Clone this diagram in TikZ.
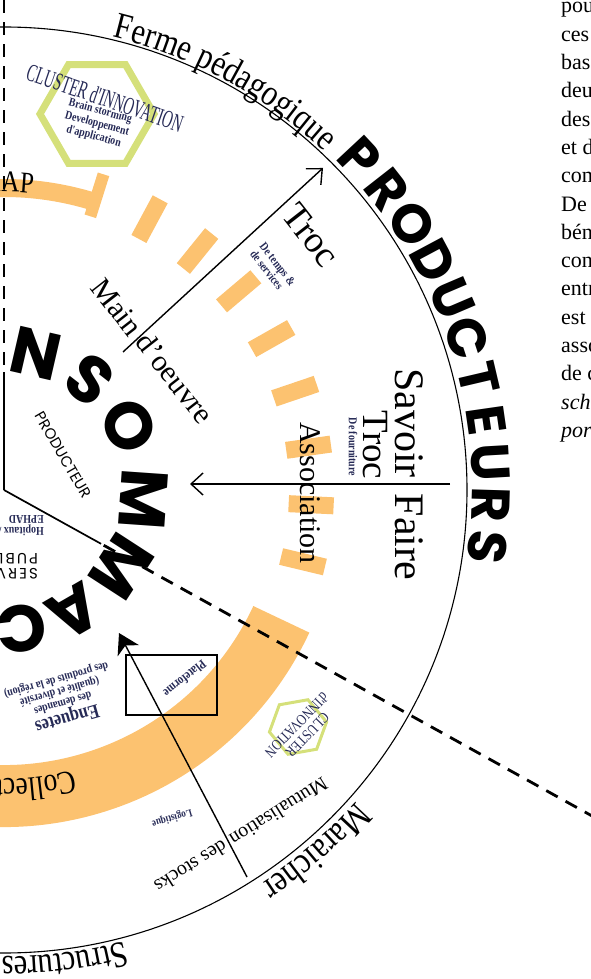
\documentclass[tikz,border=0pt]{standalone}
\usepackage{fontspec}
\usepackage{tikz}
\usetikzlibrary{arrows.meta,shapes.geometric,decorations.text}
\setmainfont{Liberation Serif}
\newfontfamily\condserif[FakeStretch=0.83]{Liberation Serif}
\newfontfamily\tallserif[FakeStretch=0.57]{Liberation Serif}
\newfontfamily\geosans{Poppins}
\newfontfamily\geospaced[LetterSpace=14]{Poppins}
\definecolor{amaporange}{RGB}{252,194,112}
\definecolor{clustergreen}{RGB}{213,224,122}
\definecolor{inknavy}{RGB}{38,42,86}
\newcommand{\ringfont}{\condserif\fontsize{37}{37}\selectfont}
\newcommand{\bandfont}{\condserif\fontsize{33}{33}\selectfont}
\newcommand{\apfont}{\condserif\fontsize{30}{30}\selectfont}
\tikzset{
  ringline/.style={line width=1.1pt},
  sectorline/.style={line width=1.7pt},
  sectordash/.style={line width=2.8pt,dash pattern=on 13pt off 9pt},
  amapband/.style={draw=amaporange,line width=18pt},
  bigband/.style={draw=amaporange,line width=62pt},
  amaptick/.style={fill=amaporange},
  flow/.style={-{Straight Barb[length=12pt,width=22pt,line width=1.4pt]},line width=1.4pt},
  supply/.style={-{Stealth[length=20pt,width=24pt,inset=6pt]},line width=1.4pt},
  consletter/.style={font=\geosans\bfseries\fontsize{66}{66}\selectfont,inner sep=0pt},
  prodletter/.style={font=\geosans\bfseries\fontsize{54}{54}\selectfont,inner sep=0pt},
  flowlabel/.style={font=\fontsize{30}{30}\selectfont,inner sep=0pt},
  smallnote/.style={font=\condserif\bfseries\fontsize{12}{12}\selectfont,text=inknavy,inner sep=0pt},
  geosmall/.style={font=\geosans\fontsize{15}{15}\selectfont,inner sep=0pt},
  clusterhex/.style={regular polygon,regular polygon sides=6,draw=clustergreen,inner sep=0pt},
  bodytext/.style={font=\fontsize{22}{22}\selectfont,anchor=base west,inner sep=0pt}
}
\begin{document}
\begin{tikzpicture}[x=1pt,y=1pt]
  \useasboundingbox (-4,-489) rectangle (587,490);
  \clip (-4,-489) rectangle (587,490);

  \draw[amapband] (118:302pt) arc[start angle=118,end angle=72.5,radius=302pt];
  \fill[amaptick,rotate=72.5] (287,-6) rectangle (331,6);
  \foreach \a in {61.75,51,40.25,29.5,18.75,8,-2.75,-13.5}
    \fill[amaptick,rotate=\a] (285,-8.5) rectangle (330,8.5);
  \draw[bigband] (-25:306pt) arc[start angle=-25,end angle=-115,radius=306pt];

  \draw[ringline] (0,0) circle[radius=463pt];
  \draw[sectorline] (0,0) -- (90:118pt);
  \draw[sectorline] (0,0) -- (-29:111pt);
  \draw[sectordash] (90:125pt) -- (90:500pt);
  \draw[sectordash] (-29:114pt) -- (-29:700pt);

  \path[decorate,decoration={text along path,text={|\ringfont|Ferme pédagogique}}]
    (76.5:466pt) arc[start angle=76.5,end angle=20,radius=466pt];
  \path[decorate,decoration={text along path,text={|\ringfont|Maraicher}}]
    (-41.5:470pt) arc[start angle=-41.5,end angle=-70,radius=470pt];
  \path[decorate,decoration={text along path,text={|\ringfont|Structures}}]
    (-75:467pt) arc[start angle=-75,end angle=-120,radius=467pt];
  \path[decorate,decoration={text along path,text={|\bandfont|Collectivités}}]
    (-76:289pt) arc[start angle=-76,end angle=-150,radius=289pt];
  \path[decorate,decoration={text along path,text={|\apfont|AMAP},text align=right}]
    (118:298pt) arc[start angle=118,end angle=84.4,radius=298pt];

  \foreach \ch/\a [count=\i] in {C/129,O/103,N/77,S/52,O/27,M/-4,M/-33,A/-60,C/-83,T/-107,E/-131,U/-156,R/-181,S/-205}
    \node[consletter,rotate=\a-90] (cons\i) at (\a:140pt) {\ch};
  \foreach \ch [count=\i] in {P,R,O,D,U,C,T,E,U,R,S}
    \node[prodletter,rotate={43-(\i-1)*4.97-90}] (prod\i) at ({43-(\i-1)*4.97}:487pt) {\ch};

  \node[clusterhex,minimum size=114pt,line width=7pt] (bighex) at (93,376) {};
  \node[font=\tallserif\fontsize{25}{25}\selectfont,text=inknavy,rotate=-19,inner sep=0pt] (bigcluster) at (101,392) {CLUSTER d'INNOVATION};
  \node[smallnote,align=center,rotate=-15,font=\condserif\bfseries\fontsize{12}{13}\selectfont] (bigclusterwork) at (93,366) {Brain storming\\Developpement\\d'application};
  \node[clusterhex,minimum size=58pt,line width=3pt,rotate=10] (smallhex) at (294,-237) {};
  \node[font=\condserif\fontsize{15}{15}\selectfont,text=inknavy,align=center,rotate=-134,inner sep=0pt] (smallcluster) at (298,-240) {CLUSTER\\d'INNOVATION};

  \coordinate (trocTail) at (119,138);
  \coordinate (trocTip) at (319,322);
  \coordinate (savoirTail) at (446,6);
  \coordinate (savoirTip) at (186,6);
  \coordinate (mutuTail) at (243,-387);
  \coordinate (mutuTip) at (115,-143);
  \draw[flow] (trocTail) -- (trocTip);
  \draw[flow] (savoirTail) -- (savoirTip);
  \draw[supply] (mutuTail) -- (mutuTip);

  \node[flowlabel,rotate=-52] (main) at (113,183) {Main};
  \node[flowlabel,rotate=-52] (oeuvre) at (171,112) {d'oeuvre};
  \node[flowlabel,font=\fontsize{37}{37}\selectfont,rotate=-52] (trocdiag) at (307,255) {Troc};
  \node[smallnote,align=left,rotate=-52] (temps) at (269,222) {De temps \&\\de services};
  \node[flowlabel,font=\fontsize{42}{42}\selectfont,rotate=-90] (savoir) at (405,67) {Savoir};
  \node[flowlabel,font=\fontsize{42}{42}\selectfont,rotate=-90] (faire) at (405,-47) {Faire};
  \node[flowlabel,font=\fontsize{37}{37}\selectfont,rotate=-90] (trocflat) at (371,45) {Troc};
  \node[smallnote,rotate=-90] (fourniture) at (349,43) {De fourniture};
  \node[flowlabel,rotate=-90] (association) at (306,-3) {Association};
  \node[flowlabel,font=\fontsize{20}{20}\selectfont,rotate=-148] (mutu) at (275,-322) {Mutualisation};
  \node[flowlabel,font=\fontsize{20}{20}\selectfont,rotate=-148] (stocks) at (187,-377) {des stocks};
  \node[smallnote,font=\condserif\bfseries\fontsize{11}{11}\selectfont,rotate=-164] (logistique) at (168,-328) {Logistique};
  \draw[line width=1.2pt] (122,-165) rectangle (213,-225);
  \node[smallnote,font=\condserif\bfseries\fontsize{13}{13}\selectfont,rotate=-141] (plateforme) at (181,-189) {Plateforme};
  \node[smallnote,align=center,rotate=-164] (enquete) at (58,-210) {{\fontsize{20}{22}\selectfont Enquetes}\\des demandes\\(qualité et diversité\\des produits de la région)};

  \node[geosmall,rotate=-60] (producteur) at (59,35) {PRODUCTEUR};
  \node[geosmall,font=\geospaced\fontsize{15}{15}\selectfont,align=left,rotate=180,anchor=north west] (services) at (34,-89) {SERVICES\\PUBLICS};
  \node[smallnote,align=left,rotate=180,anchor=north west] (hopitaux) at (40,-46) {Hopitaux /\\EPHAD};

  \foreach \w [count=\k from 0] in {pour,ces,base,deux,des,et de,com,De la,béné,con,entre,est,asso,de ce}
    \node[bodytext] (body\k) at (557,{477-28.3*\k}) {\w};
  \node[bodytext,font=\fontsize{22}{22}\selectfont\itshape] (body14) at (557,{477-28.3*14}) {schéma};
  \node[bodytext,font=\fontsize{22}{22}\selectfont\itshape] (body15) at (557,{477-28.3*15}) {portée};
\end{tikzpicture}
\end{document}
